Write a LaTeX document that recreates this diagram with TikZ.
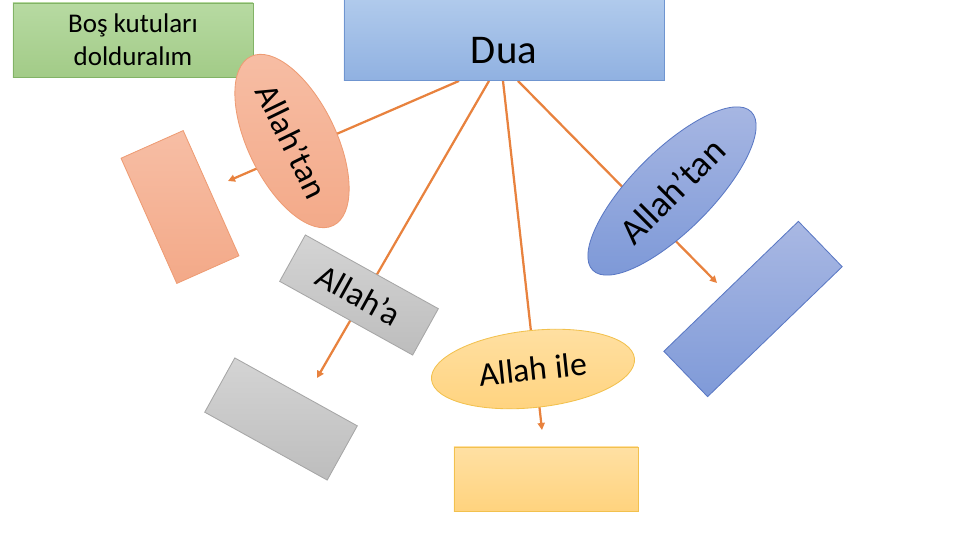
\documentclass[tikz,border=0pt]{standalone}
\usepackage{fontspec}
\setmainfont{Carlito}
\usetikzlibrary{arrows.meta, shapes.geometric, backgrounds, calc}
\usepackage{xcolor}
\definecolor{dgreentop}{HTML}{B7DAA2}
\definecolor{dgreenbot}{HTML}{A2CB87}
\definecolor{dgreenline}{HTML}{82B366}
\definecolor{dbluetop}{HTML}{B0CAEC}
\definecolor{dbluebot}{HTML}{90B1E1}
\definecolor{dblueline}{HTML}{6F95D0}
\definecolor{dorangetop}{HTML}{F7BEA5}
\definecolor{dorangebot}{HTML}{F3A988}
\definecolor{dorangeline}{HTML}{EE9C74}
\definecolor{dindigotop}{HTML}{A9B8E3}
\definecolor{dindigobot}{HTML}{7F9AD8}
\definecolor{dindigoline}{HTML}{5A78C4}
\definecolor{dgraytop}{HTML}{D4D4D4}
\definecolor{dgraybot}{HTML}{BDBDBD}
\definecolor{dgrayline}{HTML}{A6A6A6}
\definecolor{dyellowtop}{HTML}{FFE0A3}
\definecolor{dyellowbot}{HTML}{FFD37E}
\definecolor{dyellowline}{HTML}{F2C14E}
\definecolor{darrow}{HTML}{E8823E}

\begin{document}
\begin{tikzpicture}[
    x=0.025cm, y=-0.025cm,
    box/.style={rectangle, line width=0.6pt, inner sep=0pt, align=center},
    oval/.style={ellipse, line width=0.6pt, inner sep=0pt, align=center},
    greenfill/.style={draw=dgreenline, top color=dgreentop, bottom color=dgreenbot},
    bluefill/.style={draw=dblueline, top color=dbluetop, bottom color=dbluebot},
    orangefill/.style={draw=dorangeline, top color=dorangetop, bottom color=dorangebot},
    indigofill/.style={draw=dindigoline, top color=dindigotop, bottom color=dindigobot},
    grayfill/.style={draw=dgrayline, top color=dgraytop, bottom color=dgraybot},
    yellowfill/.style={draw=dyellowline, top color=dyellowtop, bottom color=dyellowbot},
    word/.style={font=\fontsize{24}{29}\selectfont},
    arrow/.style={-{Triangle[length=5pt, width=5pt]}, line width=1.6pt, draw=darrow}
  ]
  \useasboundingbox (0,0) rectangle (960,540);

  % title and root
  \node[box, greenfill, minimum width=6cm, minimum height=1.85cm,
        font=\fontsize{19.2}{23.5}\selectfont] (task) at (133,40) {Boş kutuları\\dolduralım};
  \node[box, bluefill, minimum width=8cm, minimum height=2.025cm,
        font=\fontsize{29}{35}\selectfont, text height=1.15cm, text depth=0pt] (dua) at (504,40) {Dua};

  % labels on the branches
  \node[oval, orangefill, word, minimum width=4.7cm, minimum height=2.2cm, rotate=-64] (fromleft) at (292,141) {Allah’tan};
  \node[oval, indigofill, minimum width=5.6cm, minimum height=2cm, rotate=45,
        font=\fontsize{26}{31}\selectfont] (fromright) at (672,191) {Allah’tan};
  \node[box, grayfill, word, minimum width=3.8cm, minimum height=1.325cm, rotate=-29] (toward) at (359,295) {Allah’a};
  \node[oval, yellowfill, word, minimum width=5.1cm, minimum height=1.925cm, rotate=6] (with) at (533,369) {Allah ile};

  % empty boxes to fill
  \node[box, orangefill, minimum width=1.7cm, minimum height=3.425cm, rotate=24] (blank1) at (180,207) {};
  \node[box, indigofill, minimum width=4.675cm, minimum height=1.575cm, rotate=44] (blank2) at (753,309) {};
  \node[box, grayfill, minimum width=3.5cm, minimum height=1.55cm, rotate=-29] (blank3) at (281,419) {};
  \node[box, yellowfill, minimum width=4.6cm, minimum height=1.6cm] (blank4) at (546,479) {};

  % arrow tips
  \coordinate (tip1) at (228,181);
  \coordinate (tip2) at (317,378);
  \coordinate (tip3) at (542,430);
  \coordinate (tip4) at (717,283);

  \begin{scope}[on background layer]
    \draw[arrow] ($(dua.south)+(-45,0)$) -- (tip1);
    \draw[arrow] ($(dua.south)+(-15,0)$) -- (tip2);
    \draw[arrow] ($(dua.south)+(-1,0)$) -- (tip3);
    \draw[arrow] ($(dua.south)+(14,0)$) -- (tip4);
  \end{scope}
\end{tikzpicture}
\end{document}
